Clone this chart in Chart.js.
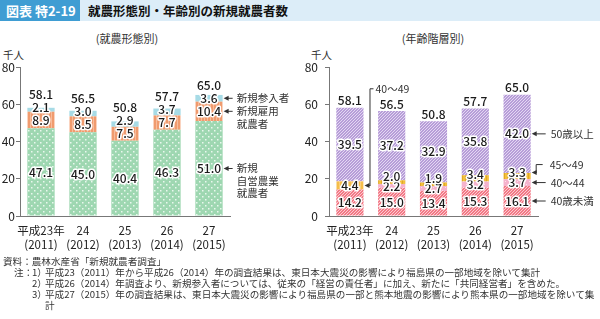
<!DOCTYPE html>
<html>
<head>
<meta charset="utf-8">
<script src="https://cdn.jsdelivr.net/npm/chart.js@4.4.1/dist/chart.umd.min.js"></script>
<style>
  body { margin: 0; width: 600px; height: 319px; position: relative; background: #fff; overflow: hidden;
         font-family: "Noto Sans CJK JP", "Noto Sans", sans-serif; color: #222; }
  .abs { position: absolute; white-space: nowrap; }
  #hdr { left: 0; top: 0; width: 600px; height: 21px; background: #dcedf8; }
  #fig { left: 0; top: 0; width: 80px; height: 21px; background: #3f9dd3; color: #fff; font-weight: bold;
         font-size: 13px; line-height: 21px; text-indent: 6px; }
  #ttl { left: 88px; top: 0; font-weight: bold; font-size: 12.5px; line-height: 21px; color: #111; }
  .sub { top: 31px; font-size: 11px; line-height: 14px; color: #333; transform: translateX(-50%); }
  .unit { top: 48px; font-size: 10.5px; line-height: 14px; color: #333; }
  canvas { position: absolute; top: 0; }
  .note { font-size: 9.6px; line-height: 11px; color: #333; }
</style>
</head>
<body>
<div class="abs" id="hdr"></div>
<div class="abs" id="fig">図表 特2-19</div>
<div class="abs" id="ttl">就農形態別・年齢別の新規就農者数</div>
<div class="abs sub" style="left:127px">(就農形態別)</div>
<div class="abs sub" style="left:433px">(年齢階層別)</div>
<div class="abs unit" style="left:3px">千人</div>
<div class="abs unit" style="left:311px">千人</div>

<canvas id="formChart" width="300" height="319" style="left:0"></canvas>
<canvas id="ageChart" width="300" height="319" style="left:300px"></canvas>

<div class="abs note" style="left:3px;top:256px">資料：農林水産省「新規就農者調査」</div>
<div class="abs note" style="left:14px;top:267px">注：</div>
<div class="abs note" style="left:32px;top:267px">1）</div>
<div class="abs note" style="left:45px;top:267px">平成23（2011）年から平成26（2014）年の調査結果は、東日本大震災の影響により福島県の一部地域を除いて集計</div>
<div class="abs note" style="left:32px;top:278px">2）</div>
<div class="abs note" style="left:45px;top:278px">平成26（2014）年調査より、新規参入者については、従来の「経営の責任者」に加え、新たに「共同経営者」を含めた。</div>
<div class="abs note" style="left:32px;top:289px">3）</div>
<div class="abs note" style="left:45px;top:289px">平成27（2015）年の調査結果は、東日本大震災の影響により福島県の一部と熊本地震の影響により熊本県の一部地域を除いて集</div>
<div class="abs note" style="left:45px;top:300px">計</div>

<script>
// categories
const years = [['平成23年', '(2011)'], ['24', '(2012)'], ['25', '(2013)'], ['26', '(2014)'], ['27', '(2015)']];

// 就農形態別 (千人)
const selfEmployed = [47.1, 45.0, 40.4, 46.3, 51.0];
const employed     = [8.9, 8.5, 7.5, 7.7, 10.4];
const newEntrants  = [2.1, 3.0, 2.9, 3.7, 3.6];
const formTotals   = [58.1, 56.5, 50.8, 57.7, 65.0];

// 年齢階層別 (千人)
const under40   = [14.2, 15.0, 13.4, 15.3, 16.1];
const age40to49 = [4.4, null, null, null, null];   // 2011 only combined
const age40to44 = [null, 2.2, 2.7, 3.2, 3.7];
const age45to49 = [null, 2.0, 1.9, 3.4, 3.3];
const over50    = [39.5, 37.2, 32.9, 35.8, 42.0];
const ageTotals = [58.1, 56.5, 50.8, 57.7, 65.0];

// side notes (dataset index -> text lines)
const formNotes = [
  { ds: 2, lines: ['新規参入者'] },
  { ds: 1, lines: ['新規雇用', '就農者'] },
  { ds: 0, lines: ['新規', '自営農業', '就農者'] },
];
const ageNotes = [
  { ds: 4, lines: ['50歳以上'] },
  { ds: 2, lines: ['40～44'] },
  { ds: 0, lines: ['40歳未満'] },
];

const FONT = '"Noto Sans CJK JP", "Noto Sans", sans-serif';
Chart.defaults.font.family = FONT;
Chart.defaults.color = '#222';

// small tile patterns to mimic the print fills
function pattern(size, bg, draw) {
  const c = document.createElement('canvas');
  c.width = size; c.height = size;
  const g = c.getContext('2d');
  g.fillStyle = bg; g.fillRect(0, 0, size, size);
  draw(g, size);
  return c.getContext('2d').createPattern(c, 'repeat');
}
const dots = (col, s) => (g) => { g.fillStyle = col; g.fillRect(1, 1, s, s); g.fillRect(4, 4, s, s); };
const vstripes = (col) => (g, n) => { g.fillStyle = col; for (let x = 0; x < n; x += 3) g.fillRect(x, 0, 1, n); };
const diag = (col) => (g, n) => {
  g.strokeStyle = col; g.lineWidth = 1;
  for (let k = -n; k <= n; k += 3) { g.beginPath(); g.moveTo(k, n); g.lineTo(k + n, 0); g.stroke(); }
};

const fills = {
  green:  pattern(6, '#9ed7b1', dots('#e9f7ee', 1.5)),
  orange: pattern(6, '#f09b6e', vstripes('#f7bc9c')),
  blue:   '#a7dbe6',
  purple: pattern(6, '#b79dd8', diag('#e3d8f2')),
  red:    pattern(6, '#f27986', diag('#fbcad0')),
  yellow: pattern(6, '#f3c03c', vstripes('#e0a826')),
  gold:   pattern(6, '#f5bd4a', vstripes('#f8cf7a')),
  pink:   pattern(6, '#f5b3cd', dots('#fbe0ea', 1)),
};

// value labels inside segments + totals on top, pushed apart from the bottom up
const segLabels = {
  id: 'segLabels',
  afterDatasetsDraw(chart, args, opts) {
    const ctx = chart.ctx, y = chart.scales.y;
    const n = chart.data.labels.length;
    chart.$labelY = chart.data.datasets.map(() => []);
    ctx.save();
    ctx.font = '500 12px ' + FONT;
    ctx.textAlign = 'center';
    ctx.textBaseline = 'middle';
    ctx.lineJoin = 'round';
    const put = (t, x, yy) => {
      ctx.strokeStyle = '#fff'; ctx.lineWidth = 3; ctx.strokeText(t, x, yy);
      ctx.fillStyle = '#1a1a1a'; ctx.fillText(t, x, yy);
    };
    for (let i = 0; i < n; i++) {
      let cum = 0, prev = Infinity, x = 0;
      chart.data.datasets.forEach((ds, di) => {
        const v = ds.data[i];
        if (v == null) return;
        x = chart.getDatasetMeta(di).data[i].x;
        const c = y.getPixelForValue(cum + v / 2);
        cum += v;
        const ly = Math.min(c, prev - opts.gap);
        prev = ly;
        chart.$labelY[di][i] = ly;
        put(v.toFixed(1), x, ly);
      });
      const ty = Math.min(y.getPixelForValue(cum) - opts.topOff, prev - opts.gap);
      put(opts.totals[i].toFixed(1), x, ty);
    }
    ctx.restore();
  }
};

function arrowLeft(ctx, tipX, yy, endX) {
  ctx.beginPath(); ctx.moveTo(tipX + 4, yy); ctx.lineTo(endX, yy); ctx.stroke();
  ctx.beginPath(); ctx.moveTo(tipX, yy); ctx.lineTo(tipX + 5, yy - 2.5); ctx.lineTo(tipX + 5, yy + 2.5);
  ctx.closePath(); ctx.fill();
}

function axes(yWidth, yPad) {
  return {
    x: {
      stacked: true,
      grid: { display: false },
      border: { display: true, color: '#777' },
      ticks: { font: { size: 11.5, lineHeight: 1.2 }, color: '#222', padding: 0, maxRotation: 0, autoSkip: false },
      afterFit: (s) => { s.height = 40; },
    },
    y: {
      stacked: true, min: 0, max: 80,
      grid: { display: true, drawOnChartArea: false, drawTicks: true, tickLength: 4, color: '#777' },
      border: { display: true, color: '#777' },
      ticks: { stepSize: 20, font: { size: 12 }, color: '#222', padding: yPad },
      afterFit: (s) => { s.width = yWidth; },
    },
  };
}

const barOpts = { barPercentage: 0.65, categoryPercentage: 1, borderWidth: 0 };

// 就農形態別
new Chart(document.getElementById('formChart'), {
  type: 'bar',
  data: {
    labels: years,
    datasets: [
      { label: '新規自営農業就農者', data: selfEmployed, backgroundColor: fills.green, ...barOpts },
      { label: '新規雇用就農者', data: employed, backgroundColor: fills.orange, ...barOpts },
      { label: '新規参入者', data: newEntrants, backgroundColor: fills.blue, ...barOpts },
    ]
  },
  options: {
    responsive: false,
    animation: false,
    layout: { padding: { top: 67, right: 70, bottom: 63, left: 0 } },
    plugins: {
      legend: { display: false },
      tooltip: { enabled: false },
      segLabels: { gap: 13, topOff: 8, totals: formTotals },
    },
    scales: axes(20, 1),
  },
  plugins: [segLabels, {
    id: 'formNotes',
    afterDraw(chart) {
      const ctx = chart.ctx, last = chart.data.labels.length - 1;
      const bar = chart.getDatasetMeta(0).data[last];
      const right = bar.x + bar.width / 2;
      ctx.save();
      ctx.strokeStyle = '#333'; ctx.fillStyle = '#333'; ctx.lineWidth = 1;
      ctx.font = '10.5px ' + FONT; ctx.textBaseline = 'middle'; ctx.textAlign = 'left';
      formNotes.forEach(({ ds, lines }) => {
        const yy = chart.$labelY[ds][last];
        arrowLeft(ctx, right + 1, yy, right + 10);
        lines.forEach((t, k) => ctx.fillText(t, right + 14, yy + k * 12.5));
      });
      ctx.restore();
    }
  }],
});

// 年齢階層別
new Chart(document.getElementById('ageChart'), {
  type: 'bar',
  data: {
    labels: years,
    datasets: [
      { label: '40歳未満', data: under40, backgroundColor: fills.red, ...barOpts },
      { label: '40～49', data: age40to49, backgroundColor: fills.gold, ...barOpts },
      { label: '40～44', data: age40to44, backgroundColor: fills.pink, ...barOpts },
      { label: '45～49', data: age45to49, backgroundColor: fills.yellow, ...barOpts },
      { label: '50歳以上', data: over50, backgroundColor: fills.purple, ...barOpts },
    ]
  },
  options: {
    responsive: false,
    animation: false,
    layout: { padding: { top: 67, right: 62, bottom: 63, left: 0 } },
    plugins: {
      legend: { display: false },
      tooltip: { enabled: false },
      segLabels: { gap: 10, topOff: 7, totals: ageTotals },
    },
    scales: axes(29, 7),
  },
  plugins: [segLabels, {
    id: 'ageNotes',
    afterDraw(chart) {
      const ctx = chart.ctx, last = chart.data.labels.length - 1;
      const bar = chart.getDatasetMeta(0).data[last];
      const right = bar.x + bar.width / 2;
      ctx.save();
      ctx.strokeStyle = '#333'; ctx.fillStyle = '#333'; ctx.lineWidth = 1;
      ctx.font = '10.5px ' + FONT; ctx.textBaseline = 'middle'; ctx.textAlign = 'left';
      ageNotes.forEach(({ ds, lines }) => {
        const yy = chart.$labelY[ds][last];
        arrowLeft(ctx, right + 1, yy, right + 15);
        ctx.fillText(lines[0], right + 20, yy);
      });
      // 45～49: bracket up from the yellow segment
      const y45 = chart.$labelY[3][last];
      arrowLeft(ctx, right + 1, y45, right + 6);
      ctx.beginPath();
      ctx.moveTo(right + 5.5, y45); ctx.lineTo(right + 5.5, y45 - 8); ctx.lineTo(right + 12, y45 - 8);
      ctx.stroke();
      ctx.fillText('45～49', right + 19, y45 - 8);
      // 40～49 (2011): bracket from the first bar up above the bars
      const b0 = chart.getDatasetMeta(1).data[0];
      const r0 = b0.x + b0.width / 2;
      const y49 = chart.$labelY[1][0];
      const yTop = chart.scales.y.getPixelForValue(68.3);
      arrowLeft(ctx, r0 + 1, y49, r0 + 7);
      ctx.beginPath();
      ctx.moveTo(r0 + 6.5, y49); ctx.lineTo(r0 + 6.5, yTop); ctx.lineTo(r0 + 10, yTop);
      ctx.stroke();
      ctx.fillText('40～49', r0 + 12, yTop);
      ctx.restore();
    }
  }],
});
</script>
</body>
</html>
